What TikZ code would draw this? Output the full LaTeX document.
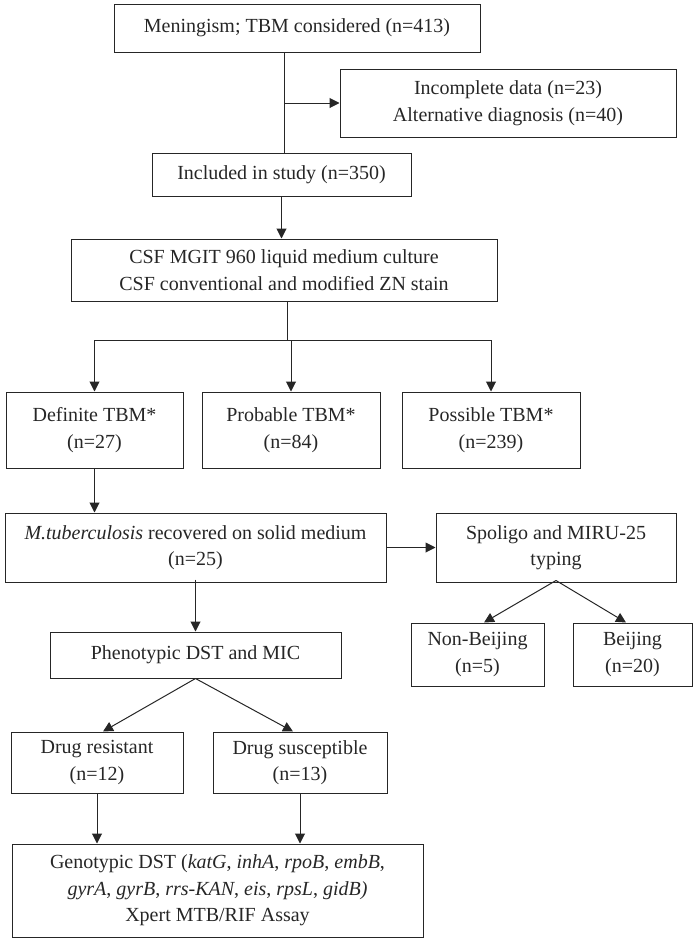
\documentclass[tikz,border=0pt]{standalone}
\usepackage{fontspec}
\setmainfont{Liberation Serif}
\usetikzlibrary{arrows.meta}
\definecolor{ink}{gray}{0.15}
\tikzset{
  box/.style={draw=ink, line width=1pt, text=ink, inner sep=0pt, align=center,
    font=\fontsize{20}{26.5}\selectfont},
  arr/.style={draw=ink, line width=1pt, -{Triangle[length=10pt,width=10pt]}}
}

\begin{document}
\begin{tikzpicture}[x=1pt,y=-1pt]
\useasboundingbox (0,0) rectangle (697,940);
% screening
\node[box, minimum width=366pt, minimum height=48pt] (menin) at (297,28) {Meningism; TBM considered (n=413)};
\node[box, minimum width=336pt, minimum height=68pt] (excl) at (508,103) {Incomplete data (n=23)\\Alternative diagnosis (n=40)};
\node[box, minimum width=259pt, minimum height=43pt] (incl) at (281.5,174.5) {Included in study (n=350)};
\node[box, minimum width=426pt, minimum height=62pt] (csf) at (284,270) {CSF MGIT 960 liquid medium culture\\CSF conventional and modified ZN stain};
% diagnostic categories
\node[box, minimum width=177pt, minimum height=76pt] (definite) at (94.5,430) {Definite TBM*\\(n=27)};
\node[box, minimum width=178pt, minimum height=76pt] (probable) at (291,430) {Probable TBM*\\(n=84)};
\node[box, minimum width=178pt, minimum height=76pt] (possible) at (491,430) {Possible TBM*\\(n=239)};
% isolates
\node[box, minimum width=381pt, minimum height=69pt] (mtb) at (195.5,547.5) {\textit{M.tuberculosis} recovered on solid medium\\(n=25)};
\node[box, minimum width=240pt, minimum height=69pt] (spoligo) at (556,547.5) {Spoligo and MIRU-25\\typing};
\node[box, minimum width=133pt, minimum height=63pt] (nonbj) at (477.5,654.5) {Non-Beijing\\(n=5)};
\node[box, minimum width=119pt, minimum height=63pt] (beij) at (632.5,654.5) {Beijing\\(n=20)};
\node[box, minimum width=291pt, minimum height=46pt] (pheno) at (195.5,655) {Phenotypic DST and MIC};
\node[box, minimum width=172pt, minimum height=61pt] (resist) at (97,762.5) {Drug resistant\\(n=12)};
\node[box, minimum width=174pt, minimum height=61pt] (suscep) at (300,762.5) {Drug susceptible\\(n=13)};
\node[box, minimum width=411pt, minimum height=93pt] (geno) at (217.5,890.5) {Genotypic DST (\textit{katG}, \textit{inhA}, \textit{rpoB}, \textit{embB},\\\textit{gyrA}, \textit{gyrB}, \textit{rrs-KAN}, \textit{eis}, \textit{rpsL}, \textit{gidB)}\\Xpert MTB/RIF Assay};

\coordinate (j1) at (284,103);
\draw[draw=ink, line width=1pt] (menin.south -| j1) -- (incl.north -| j1);
\draw[arr] (j1) -- (excl.west);
\draw[arr] (incl.south) -- (incl.south |- csf.north);

\coordinate (fork) at (287,340);
\draw[draw=ink, line width=1pt] (csf.south -| fork) -- (fork);
\draw[draw=ink, line width=1pt] (fork -| definite) -- (fork -| possible);
\foreach \n in {definite,probable,possible}
  \draw[arr] (fork -| \n) -- (\n.north);

\draw[arr] (definite.south) -- (definite.south |- mtb.north);
\draw[arr] (mtb.east) -- (spoligo.west);
\draw[arr] ([yshift=3pt]mtb.south) -- (pheno.north);
\draw[arr] ([yshift=2pt]spoligo.south) -- ([xshift=6.5pt]nonbj.north);
\draw[arr] ([yshift=2pt]spoligo.south) -- ([xshift=-6.5pt]beij.north);
\draw[arr] (pheno.south) -- ([xshift=6pt]resist.north);
\draw[arr] (pheno.south) -- ([xshift=-7pt]suscep.north);
\draw[arr] (resist.south) -- (resist.south |- geno.north);
\draw[arr] (suscep.south) -- (suscep.south |- geno.north);
\end{tikzpicture}
\end{document}
